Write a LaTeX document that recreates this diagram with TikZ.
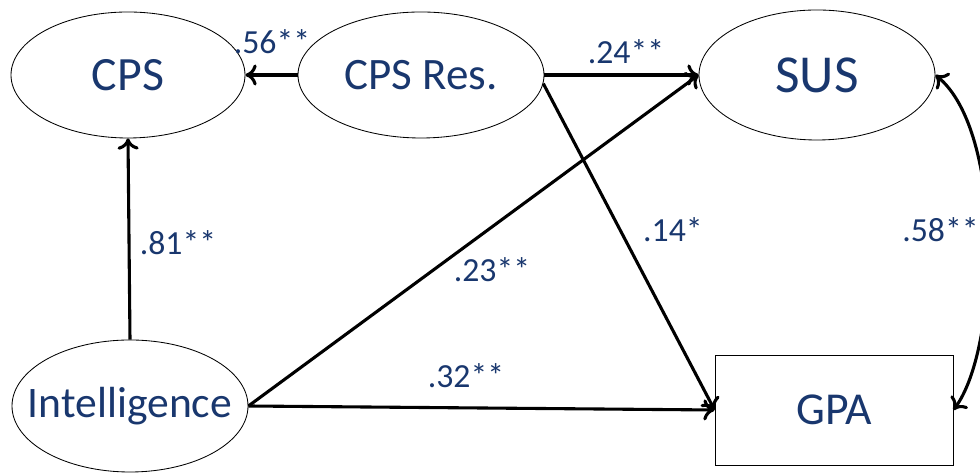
\documentclass[tikz,border=0pt]{standalone}
\usepackage{fontspec}
\setmainfont{Carlito}
\usetikzlibrary{shapes.geometric,arrows.meta}
\definecolor{txtblue}{RGB}{25,55,110}
\newcommand{\fsz}[1]{\fontsize{#1}{#1}\selectfont}
\tikzset{
	latent/.style={ellipse,draw,line width=0.6pt,inner sep=0pt,text=txtblue,font=\fsz{31}},
	observed/.style={rectangle,draw,line width=0.6pt,inner sep=0pt,text=txtblue,font=\fsz{31}},
	path/.style={line width=2.2pt,-{To[length=8pt,width=15pt]}},
	coef/.style={text=txtblue,font=\fsz{24}}
}
\begin{document}
\begin{tikzpicture}
		\useasboundingbox (0,0) rectangle (24.5,11.875);
		%Variables
		\node[latent,font=\fsz{34},minimum width=5.85cm,minimum height=3.15cm] (cps) at (3.2,10) {CPS};
		\node[latent,font=\fsz{32},minimum width=6.15cm,minimum height=3.15cm] (res) at (10.525,10) {CPS Res.};
		\node[latent,font=\fsz{38},minimum width=5.9cm,minimum height=3.25cm] (sus) at (20.425,10) {SUS};
		\node[latent,inner xsep=-0.52cm,minimum width=5.9cm,minimum height=3.3cm] (intel) at (3.25,1.725) {Intelligence};
		\node[observed,font=\fsz{32.5},minimum width=5.95cm,minimum height=2.75cm] (gpa) at (20.85,1.625) {GPA};

		% Chemins
		\draw[path] (res.west) -- (cps.east);
		\draw[path] (res.east) -- (sus.west);
		\draw[path] (res.-4) -- (gpa.west);
		\draw[path] (intel.east) -- (sus.west);
		\draw[path] (intel.east) -- (gpa.west);
		\draw[path] (intel.north) -- (cps.south);
		\draw[path,{To[length=8pt,width=15pt]}-{To[length=8pt,width=15pt]}] (sus.east) .. controls (25.1,8.6) and (25,3.2) .. (gpa.east);

		% Coefficients
		\node[coef] (c56) at (6.8,10.825) {.56**};
		\node[coef] (c24) at (15.65,10.575) {.24**};
		\node[coef] (c14) at (16.825,6.125) {.14*};
		\node[coef] (c23) at (12.3,5.125) {.23**};
		\node[coef] (c32) at (11.65,2.475) {.32**};
		\node[coef] (c81) at (4.45,5.8) {.81**};
		\node[coef,anchor=west,inner sep=0pt] (c58) at (22.55,6.125) {.58**};
\end{tikzpicture}
\end{document}
